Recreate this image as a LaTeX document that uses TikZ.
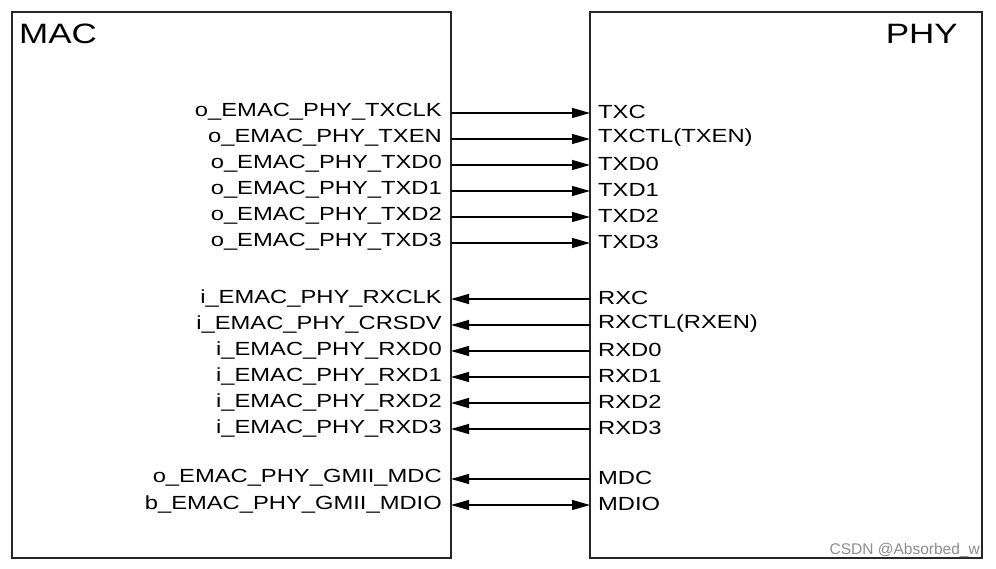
\documentclass[tikz,border=0pt]{standalone}
\usepackage{fontspec}
\setmainfont[FakeStretch=1.25]{Liberation Sans}
\newfontfamily\wmfont{Liberation Sans}
\usetikzlibrary{arrows.meta}
\tikzset{
  blockbox/.style={draw=black!85,line width=1.6pt,inner sep=0pt},
  sigline/.style={line width=1.2pt,black},
  tip/.tip={Triangle[length=18pt,width=10pt]},
  lbl/.style={inner sep=0pt,font=\fontsize{19}{19}\selectfont},
  title/.style={inner sep=0pt,font=\fontsize{28}{28}\selectfont},
}
\begin{document}
\begin{tikzpicture}[x=1pt,y=-1pt]
\useasboundingbox (0,0) rectangle (996,568);
\draw[blockbox] (12,12) rectangle (451,558);
\draw[blockbox] (590,12) rectangle (982,558);
\node[title,anchor=north west] (mac) at (19,24) {MAC};
\node[title,anchor=north east] (phy) at (958,24) {PHY};
% TX signals
\foreach \i/\y/\l/\r in {1/113/o\_EMAC\_PHY\_TXCLK/TXC,2/139/o\_EMAC\_PHY\_TXEN/TXCTL(TXEN),3/165/o\_EMAC\_PHY\_TXD0/TXD0,4/191/o\_EMAC\_PHY\_TXD1/TXD1,5/217/o\_EMAC\_PHY\_TXD2/TXD2,6/243/o\_EMAC\_PHY\_TXD3/TXD3}{
  \coordinate (tl\i) at (451,\y);
  \coordinate (tr\i) at (590,\y);
  \node[lbl,anchor=east] (tln\i) at (442,\y-1) {\l};
  \node[lbl,anchor=west] (trn\i) at (598,\y-1) {\r};
  \draw[sigline,-tip] (tl\i) -- (tr\i);
}
% RX signals
\foreach \i/\y/\l/\r in {1/299/i\_EMAC\_PHY\_RXCLK/RXC,2/325/i\_EMAC\_PHY\_CRSDV/RXCTL(RXEN),3/351/i\_EMAC\_PHY\_RXD0/RXD0,4/377/i\_EMAC\_PHY\_RXD1/RXD1,5/403/i\_EMAC\_PHY\_RXD2/RXD2,6/429/i\_EMAC\_PHY\_RXD3/RXD3}{
  \coordinate (rl\i) at (451,\y);
  \coordinate (rr\i) at (590,\y);
  \node[lbl,anchor=east] (rln\i) at (442,\y-1) {\l};
  \node[lbl,anchor=west] (rrn\i) at (598,\y-1) {\r};
  \draw[sigline,-tip] (rr\i) -- (rl\i);
}
% management
\coordinate (ml1) at (451,479);
\coordinate (mr1) at (590,479);
\coordinate (ml2) at (451,505);
\coordinate (mr2) at (590,505);
\node[lbl,anchor=east] (mln1) at (442,478) {o\_EMAC\_PHY\_GMII\_MDC};
\node[lbl,anchor=west] (mrn1) at (598,478) {MDC};
\node[lbl,anchor=east] (mln2) at (442,504) {b\_EMAC\_PHY\_GMII\_MDIO};
\node[lbl,anchor=west] (mrn2) at (598,504) {MDIO};
\draw[sigline,-tip] (mr1) -- (ml1);
\draw[sigline,tip-tip] (ml2) -- (mr2);
% watermark
\node[inner sep=0pt,anchor=south east,text=black!45,font=\wmfont\fontsize{15.5}{15.5}\selectfont] (wm) at (980,558) {CSDN @Absorbed\_w};
\end{tikzpicture}
\end{document}
